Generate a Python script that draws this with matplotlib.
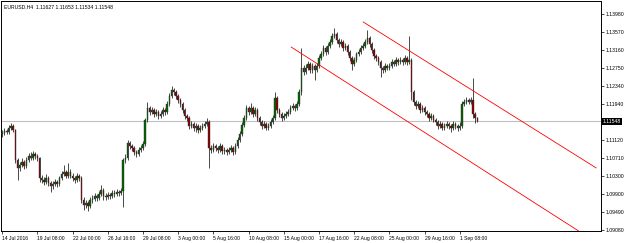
import matplotlib.pyplot as plt

# EURUSD H4 candles, 14 Jul 2016 16:00 onward (bar index = position)
first_open = 1.1125
closes = [
    1.1128, 1.1133, 1.1130, 1.1140, 1.1144, 1.1135, 1.1067, 1.1049, 1.1056, 1.1062,
    1.1053, 1.1067, 1.1076, 1.1071, 1.1081, 1.1076, 1.1071, 1.1026, 1.1022, 1.1017,
    1.1026, 1.1015, 1.1008, 1.1013, 1.1017, 1.1013, 1.1026, 1.1035, 1.1040, 1.1031,
    1.1040, 1.1031, 1.1026, 1.1022, 1.1031, 1.1026, 1.0976, 1.0965, 1.0969, 1.0963,
    1.0976, 1.0979, 1.0985, 1.0981, 1.0990, 1.0999, 1.0985, 1.0983, 1.0988, 1.0985,
    1.0992, 1.0990, 1.0994, 1.0992, 1.0997, 1.1067, 1.1071, 1.1106, 1.1099, 1.1094,
    1.1085, 1.1081, 1.1090, 1.1094, 1.1103, 1.1158, 1.1185, 1.1176, 1.1180, 1.1171,
    1.1176, 1.1167, 1.1171, 1.1180, 1.1176, 1.1194, 1.1212, 1.1226, 1.1221, 1.1212,
    1.1203, 1.1194, 1.1180, 1.1167, 1.1162, 1.1144, 1.1149, 1.1140, 1.1144, 1.1135,
    1.1140, 1.1144, 1.1149, 1.1153, 1.1094, 1.1090, 1.1099, 1.1094, 1.1090, 1.1099,
    1.1087, 1.1090, 1.1085, 1.1090, 1.1094, 1.1085, 1.1099, 1.1112, 1.1126, 1.1146,
    1.1162, 1.1185, 1.1176, 1.1185, 1.1171, 1.1180, 1.1162, 1.1153, 1.1144, 1.1149,
    1.1140, 1.1144, 1.1153, 1.1162, 1.1208, 1.1180, 1.1171, 1.1162, 1.1167, 1.1171,
    1.1176, 1.1185, 1.1189, 1.1185, 1.1194, 1.1221, 1.1276, 1.1267, 1.1276, 1.1285,
    1.1271, 1.1280, 1.1271, 1.1280, 1.1298, 1.1307, 1.1321, 1.1312, 1.1326, 1.1335,
    1.1348, 1.1353, 1.1339, 1.1330, 1.1335, 1.1321, 1.1326, 1.1312, 1.1298, 1.1285,
    1.1294, 1.1307, 1.1312, 1.1321, 1.1326, 1.1335, 1.1344, 1.1330, 1.1316, 1.1303,
    1.1298, 1.1289, 1.1276, 1.1271, 1.1280, 1.1276, 1.1280, 1.1289, 1.1285, 1.1294,
    1.1289, 1.1294, 1.1289, 1.1298, 1.1289, 1.1294, 1.1221, 1.1199, 1.1189, 1.1194,
    1.1180, 1.1185, 1.1176, 1.1171, 1.1162, 1.1167, 1.1158, 1.1153, 1.1144, 1.1149,
    1.1140, 1.1144, 1.1149, 1.1144, 1.1140, 1.1149, 1.1144, 1.1140, 1.1144, 1.1194,
    1.1199, 1.1203, 1.1199, 1.1203, 1.1171, 1.11627, 1.11548,
]
highs = [
    1.1135, 1.1139, 1.1138, 1.1146, 1.1151, 1.1149, 1.1138, 1.1072, 1.1063, 1.1071,
    1.1066, 1.1074, 1.1083, 1.1085, 1.1087, 1.1086, 1.1080, 1.1074, 1.1033, 1.1028,
    1.1035, 1.1030, 1.1019, 1.1020, 1.1024, 1.1022, 1.1031, 1.1042, 1.1056, 1.1045,
    1.1060, 1.1046, 1.1037, 1.1030, 1.1038, 1.1036, 1.1030, 1.0982, 1.0977, 1.0974,
    1.0983, 1.0987, 1.0993, 1.0990, 1.0997, 1.1010, 1.1003, 1.0991, 1.0995, 1.0993,
    1.0999, 1.0998, 1.1001, 1.0999, 1.1004, 1.1072, 1.1080, 1.1112, 1.1110, 1.1104,
    1.1098, 1.1090, 1.1096, 1.1101, 1.1110, 1.1163, 1.1198, 1.1190, 1.1187, 1.1184,
    1.1183, 1.1180, 1.1178, 1.1186, 1.1185, 1.1200, 1.1218, 1.1235, 1.1231, 1.1225,
    1.1216, 1.1207, 1.1198, 1.1184, 1.1172, 1.1166, 1.1156, 1.1153, 1.1150, 1.1148,
    1.1146, 1.1151, 1.1155, 1.1162, 1.1157, 1.1101, 1.1106, 1.1104, 1.1099, 1.1105,
    1.1103, 1.1097, 1.1094, 1.1096, 1.1100, 1.1098, 1.1105, 1.1118, 1.1133, 1.1152,
    1.1168, 1.1191, 1.1190, 1.1196, 1.1189, 1.1187, 1.1184, 1.1166, 1.1157, 1.1155,
    1.1153, 1.1150, 1.1159, 1.1168, 1.1221, 1.1212, 1.1184, 1.1175, 1.1174, 1.1178,
    1.1182, 1.1191, 1.1196, 1.1194, 1.1200, 1.1227, 1.1321, 1.1283, 1.1284, 1.1292,
    1.1290, 1.1287, 1.1284, 1.1286, 1.1304, 1.1314, 1.1328, 1.1326, 1.1333, 1.1342,
    1.1355, 1.1366, 1.1357, 1.1343, 1.1342, 1.1339, 1.1332, 1.1330, 1.1316, 1.1302,
    1.1300, 1.1313, 1.1319, 1.1327, 1.1333, 1.1342, 1.1362, 1.1348, 1.1334, 1.1320,
    1.1308, 1.1302, 1.1293, 1.1281, 1.1286, 1.1285, 1.1287, 1.1295, 1.1294, 1.1300,
    1.1298, 1.1301, 1.1299, 1.1304, 1.1302, 1.1348, 1.1298, 1.1225, 1.1204, 1.1200,
    1.1198, 1.1191, 1.1189, 1.1181, 1.1175, 1.1173, 1.1171, 1.1163, 1.1157, 1.1155,
    1.1153, 1.1150, 1.1155, 1.1153, 1.1149, 1.1155, 1.1154, 1.1149, 1.1152, 1.1200,
    1.1206, 1.1210, 1.1208, 1.1209, 1.1253, 1.1175, 1.11653,
]
lows = [
    1.1119, 1.1124, 1.1125, 1.1127, 1.1135, 1.1130, 1.1060, 1.1022, 1.1043, 1.1050,
    1.1046, 1.1049, 1.1062, 1.1066, 1.1067, 1.1070, 1.1064, 1.1017, 1.1014, 1.1010,
    1.1012, 1.1008, 1.0994, 1.1002, 1.1008, 1.1006, 1.1009, 1.1021, 1.1030, 1.1025,
    1.1027, 1.1026, 1.1019, 1.1014, 1.1018, 1.1020, 1.0969, 1.0953, 1.0958, 1.0951,
    1.0958, 1.0970, 1.0973, 1.0974, 1.0977, 1.0986, 1.0976, 1.0977, 1.0978, 1.0979,
    1.0981, 1.0984, 1.0986, 1.0986, 1.0988, 1.0960, 1.1061, 1.1066, 1.1093, 1.1088,
    1.1078, 1.1074, 1.1076, 1.1085, 1.1089, 1.1099, 1.1152, 1.1170, 1.1171, 1.1165,
    1.1166, 1.1161, 1.1162, 1.1167, 1.1170, 1.1172, 1.1190, 1.1207, 1.1215, 1.1206,
    1.1197, 1.1188, 1.1174, 1.1161, 1.1155, 1.1138, 1.1139, 1.1133, 1.1130, 1.1129,
    1.1130, 1.1136, 1.1140, 1.1145, 1.1049, 1.1082, 1.1085, 1.1087, 1.1083, 1.1085,
    1.1080, 1.1081, 1.1078, 1.1080, 1.1085, 1.1079, 1.1081, 1.1095, 1.1108, 1.1121,
    1.1141, 1.1158, 1.1170, 1.1171, 1.1165, 1.1166, 1.1156, 1.1147, 1.1138, 1.1139,
    1.1134, 1.1135, 1.1140, 1.1149, 1.1158, 1.1174, 1.1165, 1.1156, 1.1157, 1.1162,
    1.1166, 1.1171, 1.1180, 1.1179, 1.1181, 1.1189, 1.1215, 1.1259, 1.1262, 1.1270,
    1.1264, 1.1265, 1.1248, 1.1266, 1.1275, 1.1293, 1.1302, 1.1306, 1.1307, 1.1321,
    1.1330, 1.1343, 1.1333, 1.1324, 1.1325, 1.1315, 1.1316, 1.1306, 1.1291, 1.1271,
    1.1279, 1.1289, 1.1302, 1.1307, 1.1316, 1.1321, 1.1330, 1.1324, 1.1310, 1.1297,
    1.1291, 1.1283, 1.1255, 1.1264, 1.1266, 1.1270, 1.1271, 1.1275, 1.1279, 1.1280,
    1.1283, 1.1285, 1.1282, 1.1285, 1.1283, 1.1284, 1.1203, 1.1192, 1.1183, 1.1184,
    1.1174, 1.1175, 1.1170, 1.1165, 1.1156, 1.1157, 1.1152, 1.1147, 1.1138, 1.1139,
    1.1134, 1.1135, 1.1140, 1.1138, 1.1131, 1.1135, 1.1138, 1.1133, 1.1134, 1.1140,
    1.1189, 1.1194, 1.1193, 1.1194, 1.1163, 1.1150, 1.11534,
]

# time axis labels, one every 16 bars
x_labels = ["14 Jul 2016", "19 Jul 08:00", "22 Jul 00:00", "26 Jul 16:00",
            "29 Jul 08:00", "3 Aug 00:00", "5 Aug 16:00", "10 Aug 08:00",
            "15 Aug 00:00", "17 Aug 16:00", "22 Aug 08:00", "25 Aug 00:00",
            "29 Aug 16:00", "1 Sep 08:00"]
label_step = 16

y_ticks = [1.13980, 1.13570, 1.13160, 1.12750, 1.12340, 1.11940,
           1.11120, 1.10710, 1.10300, 1.09900, 1.09490, 1.09080]
bid = 1.11548
header = "EURUSD.H4  1.11627 1.11653 1.11534 1.11548"

# channel lines: (bar, price) endpoints
upper_channel = [(164.1, 1.1380), (270.0, 1.1049)]
lower_channel = [(131.4, 1.1323), (262.0, 1.0906)]

opens = [first_open] + closes[:-1]
n = len(closes)
idx = list(range(n))

plt.rcParams['font.family'] = ['Liberation Sans', 'DejaVu Sans']

fig = plt.figure(figsize=(6.25, 2.43), dpi=100)
ax = fig.add_axes([1.5 / 625, 12 / 243, 599.5 / 625, 229.5 / 243])

# wicks
ax.vlines(idx, lows, highs, color="black", linewidth=0.5, zorder=2)

# bodies
bottoms = [min(o, c) for o, c in zip(opens, closes)]
heights = [abs(c - o) for o, c in zip(opens, closes)]
colors = ["#006400" if c >= o else "#8b0000" for o, c in zip(opens, closes)]
ax.bar(idx, heights, bottom=bottoms, width=0.65, color=colors,
       edgecolor="#303030", linewidth=0.3, zorder=3)

# bid line
ax.axhline(bid, color="#c0c0c0", linewidth=0.8, zorder=1)

# channel
ax.plot([p[0] for p in upper_channel], [p[1] for p in upper_channel],
        color="#ff0000", linewidth=0.6, zorder=4)
ax.plot([p[0] for p in lower_channel], [p[1] for p in lower_channel],
        color="#ff0000", linewidth=0.6, zorder=4)

ax.set_xlim(-0.3, 272.2)
ax.set_ylim(1.09059, 1.14264)

ax.set_xticks([i * label_step for i in range(len(x_labels))])
ax.set_xticklabels(x_labels, ha="left")
ax.yaxis.tick_right()
ax.set_yticks(y_ticks)
ax.set_yticklabels(["%.5f" % v for v in y_ticks])
ax.tick_params(axis="x", length=2.5, width=0.5, pad=1, labelsize=3.6)
ax.tick_params(axis="y", length=2, width=0.5, pad=1.5, labelsize=3.7)

for s in ax.spines.values():
    s.set_linewidth(0.7)

ax.text(0.004, 0.985, header, transform=ax.transAxes, fontsize=3.7,
        va="top", ha="left")

ax.text(1.0035, bid, "%.5f" % bid, transform=ax.get_yaxis_transform(),
        fontsize=3.7, color="white", va="center", ha="left",
        bbox=dict(boxstyle="square,pad=0.15", facecolor="black", edgecolor="none"),
        clip_on=False)

plt.savefig("out.png", dpi=100)
